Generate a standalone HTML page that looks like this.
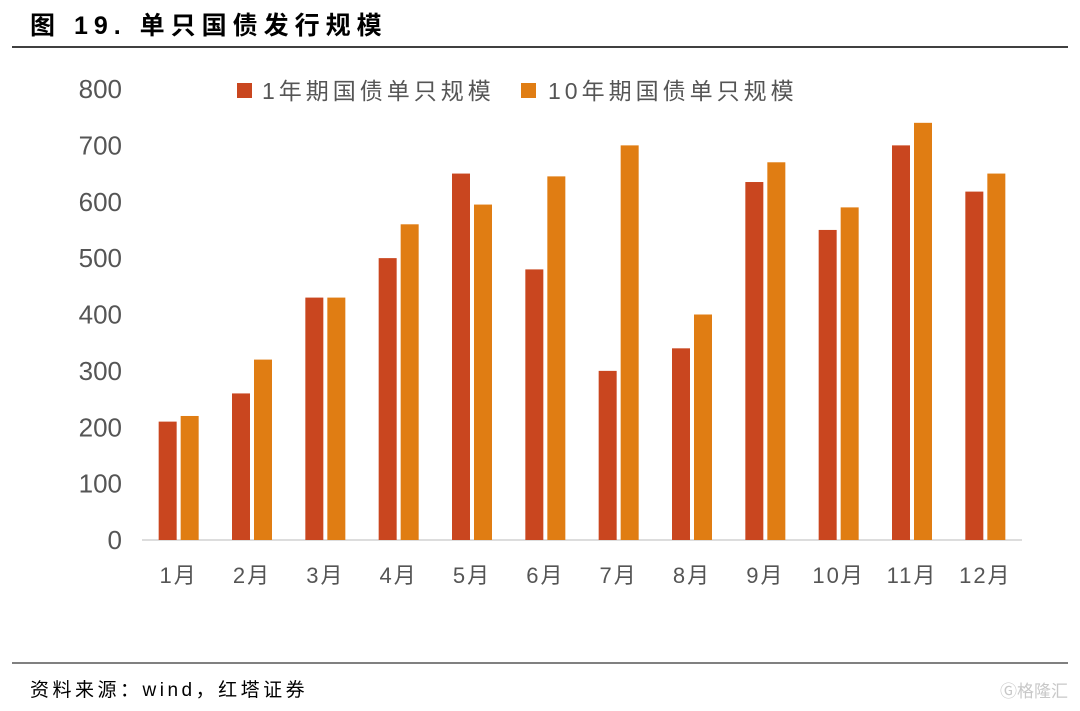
<!DOCTYPE html>
<html><head><meta charset="utf-8">
<style>
body{margin:0;background:#fff;width:1080px;height:706px;overflow:hidden;font-family:"Liberation Sans","Noto Sans CJK SC",sans-serif;}
</style></head>
<body>
<svg width="1080" height="706" xmlns="http://www.w3.org/2000/svg" font-family="Liberation Sans, Noto Sans CJK SC, sans-serif">
<text x="30" y="34" font-size="25" font-weight="bold" fill="#000" letter-spacing="6">图 19. 单只国债发行规模</text>
<line x1="12" y1="47" x2="1068" y2="47" stroke="#000" stroke-width="1.5"/>
<g id="chart"></g>
<g>
<rect x="237" y="83" width="15" height="15" fill="#c9461f"/>
<text x="262" y="99" font-size="23" fill="#555" letter-spacing="4">1年期国债单只规模</text>
<rect x="521" y="83" width="15" height="15" fill="#e07d13"/>
<text x="548" y="99" font-size="23" fill="#555" letter-spacing="4">10年期国债单只规模</text>
</g>
<line x1="12" y1="663" x2="1068" y2="663" stroke="#000" stroke-width="1"/>
<text x="30" y="696" font-size="19" fill="#000" letter-spacing="3.5">资料来源：wind，红塔证券</text>
<text x="1000" y="697" font-size="17" fill="#c8c8c8">Ⓖ格隆汇</text>
</svg>
<script>
const categories=["1月","2月","3月","4月","5月","6月","7月","8月","9月","10月","11月","12月"];
const series1y=[210,260,430,500,650,480,300,340,635,550,700,618];
const series10y=[220,320,430,560,595,645,700,400,670,590,740,650];
const yTicks=[0,100,200,300,400,500,600,700,800];
const NS="http://www.w3.org/2000/svg";
const g=document.getElementById('chart');
const x0=142,x1=1022,y0=540,yTop=89,yMax=800;
const bw=(x1-x0)/categories.length;
const yS=v=>y0-(v/yMax)*(y0-yTop);
function mk(t,a){const e=document.createElementNS(NS,t);for(const k in a)e.setAttribute(k,a[k]);g.appendChild(e);return e;}
yTicks.forEach(v=>{const t=mk('text',{x:122,y:yS(v)+9,'font-size':26,fill:'#555','text-anchor':'end'});t.textContent=v;

});
const ax=mk('line',{x1:x0,y1:y0,x2:x1,y2:y0,stroke:'#bbb','stroke-width':1});


categories.forEach((c,i)=>{const cx=x0+bw*(i+0.5);
const r1=mk('rect',{x:cx-20,y:yS(series1y[i]),width:18,height:y0-yS(series1y[i]),fill:'#c9461f'});


const r2=mk('rect',{x:cx+2,y:yS(series10y[i]),width:18,height:y0-yS(series10y[i]),fill:'#e07d13'});


const t=mk('text',{x:cx,y:583,'font-size':22,fill:'#555','text-anchor':'middle','letter-spacing':2});t.textContent=c;

});
</script>
</body></html>
